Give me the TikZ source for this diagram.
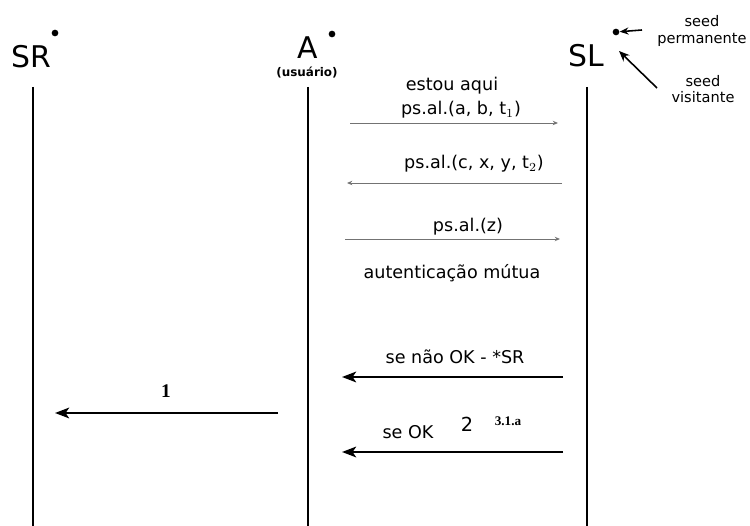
\documentclass[tikz,border=0pt]{standalone}
\usepackage{fontspec}
\setmainfont{DejaVu Sans}
\newfontfamily\numfont{Liberation Serif}
\usetikzlibrary{arrows.meta}

\begin{document}
\begin{tikzpicture}[x=0.02cm, y=-0.02cm,
    lifeline/.style={line width=1.4pt},
    entity/.style={font=\fontsize{17}{20}\selectfont},
    msg/.style={font=\fontsize{10}{12}\selectfont},
    note/.style={font=\fontsize{8.3}{9.5}\selectfont, align=center},
    weak/.style={black!55, line width=0.5pt, -{Stealth[length=3pt,width=2.5pt]}},
    strong/.style={line width=1.5pt, -{Stealth[length=8pt,width=6pt,inset=2pt]}},
    seed/.style={circle, fill, inner sep=0pt, minimum size=3.8pt}]
    \useasboundingbox (0,0) rectangle (750,526);

    % entities and their lifelines
    \node[entity] (sr) at (31,57) {SR};
    \node[entity] (a) at (308,48) {A};
    \node[font=\bfseries\fontsize{6.8}{8}\selectfont] (user) at (307,73) {(usuário)};
    \node[entity] (sl) at (586,56) {SL};
    \node[seed] (srdot) at (55,33) {};
    \node[seed] (adot) at (332,34) {};
    \node[seed] (sldot) at (616,32) {};

    \coordinate (srtop) at (33,87);  \coordinate (srbot) at (33,526);
    \coordinate (atop) at (308,87);  \coordinate (abot) at (308,526);
    \coordinate (sltop) at (587,87); \coordinate (slbot) at (587,526);
    \draw[lifeline] (srtop) -- (srbot);
    \draw[lifeline] (atop) -- (abot);
    \draw[lifeline] (sltop) -- (slbot);

    % seeds
    \node[note] (perm) at (702,31) {seed\\permanente};
    \node[note] (visit) at (703,89) {seed\\visitante};
    \coordinate (permtail) at (642,30);
    \coordinate (visittail) at (657,88);
    \coordinate (visithead) at (619,51);
    \draw[line width=0.9pt, -{Stealth[length=5pt,width=4pt]}] (permtail) -- (sldot);
    \draw[line width=0.9pt, -{Stealth[length=6pt,width=5pt]}] (visittail) -- (visithead);

    % messages between A and SL
    \node[msg] (here) at (452,86) {estou aqui};
    \node[msg] (m1) at (461,110) {ps.al.(a, b, t$_1$)};
    \coordinate (m1a) at (350,123); \coordinate (m1b) at (558,123);
    \draw[weak] (m1a) -- (m1b);

    \node[msg] (m2) at (474,164) {ps.al.(c, x, y, t$_2$)};
    \coordinate (m2a) at (562,183); \coordinate (m2b) at (347,183);
    \draw[weak] (m2a) -- (m2b);

    \node[msg] (m3) at (468,227) {ps.al.(z)};
    \coordinate (m3a) at (345,239); \coordinate (m3b) at (560,239);
    \draw[weak] (m3a) -- (m3b);

    \node[msg] (auth) at (452,273) {autenticação mútua};

    \node[msg] (nok) at (455,357) {se não OK - *SR};
    \coordinate (m4a) at (563,377); \coordinate (m4b) at (342,377);
    \draw[strong] (m4a) -- (m4b);

    \node[msg] (ok) at (408,432) {se OK};
    \node[font=\fontsize{11}{12}\selectfont] (two) at (467,424) {2};
    \node[font=\numfont\bfseries\fontsize{7.5}{9}\selectfont] (step31) at (508,421) {3.1.a};
    \coordinate (m5a) at (563,452); \coordinate (m5b) at (342,452);
    \draw[strong] (m5a) -- (m5b);

    % from A to SR
    \node[font=\numfont\bfseries\fontsize{11}{12}\selectfont] (one) at (166,391) {1};
    \coordinate (m6a) at (278,413); \coordinate (m6b) at (55,413);
    \draw[strong] (m6a) -- (m6b);
\end{tikzpicture}
\end{document}
